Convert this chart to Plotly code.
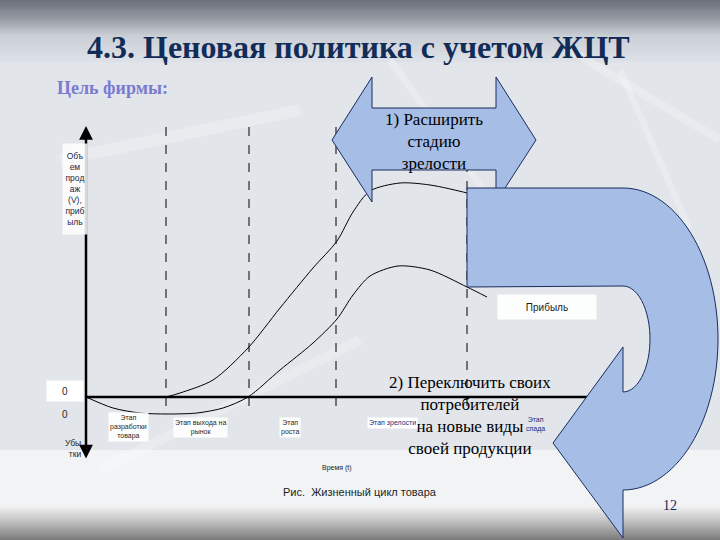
import numpy as np
import plotly.graph_objects as go

# ---------------- data (time t, value V) ----------------
sales_t = [8.0, 9.4, 12.7, 16.2, 19.4, 22.7, 25.1, 26.7, 28.4, 31.4, 34.4, 38.1, 40.1]
sales_v = [0.0, 0.4, 1.7, 4.9, 8.9, 12.9, 15.6, 18.5, 20.6, 21.4, 21.2, 20.4, 19.8]

profit_t = [0.0, 2.7, 5.4, 8.1, 11.1, 13.7, 16.2, 19.4, 22.7, 25.1, 26.7, 28.4, 31.2, 34.4, 38.1, 40.1]
profit_v = [0.0, -1.1, -1.6, -1.7, -1.6, -1.1, 0.0, 2.7, 5.4, 7.8, 10.2, 12.1, 13.1, 12.7, 11.0, 10.0]

stage_bounds = [8.0, 16.3, 25.0, 38.1]
stage_labels = ["Этап<br>разработки<br>товара", "Этап выхода на<br>рынок", "Этап<br>роста",
                "Этап зрелости", "Этап<br>спада"]
stage_label_t = [4.2, 11.4, 20.4, 30.6, 44.0]

title_text = "4.3. Ценовая политика с учетом ЖЦТ"
goal_text = "Цель фирмы:"
callout1_text = "1) Расширить<br>стадию<br>зрелости"
callout2_text = "2) Переключить своих<br>потребителей<br>на новые виды<br>своей продукции"
y_label = "Объ<br>ем<br>прод<br>аж<br>(V),<br>приб<br>ыль"
caption = "Рис.  Жизненный цикл товара"
page_no = "12"

SERIF = "Liberation Serif"
SANS = "Liberation Sans"
ARROW_FILL = "rgb(166,189,230)"
ARROW_LINE = "rgb(25,45,95)"

fig = go.Figure()

# axis ranges: 10 px per unit, t=0 at x=86px, V=0 at y=397px
XR = [-8.6, 63.4]
YR = [-14.3, 39.7]

shapes = []

def lerp(c1, c2, f):
    return tuple(int(round(a + (b - a) * f)) for a, b in zip(c1, c2))

# background
shapes.append(dict(type="rect", xref="paper", yref="paper", x0=0, x1=1, y0=0, y1=1,
                   fillcolor="rgb(226,229,234)", line=dict(width=0), layer="below"))
stops = [(0, (106, 110, 120)), (18, (148, 152, 161)), (36, (203, 207, 214)), (62, (222, 226, 232))]
for i in range(len(stops) - 1):
    (p0, c0), (p1, c1) = stops[i], stops[i + 1]
    n = 8
    for k in range(n):
        ya = p0 + (p1 - p0) * k / n
        yb = p0 + (p1 - p0) * (k + 1) / n
        c = lerp(c0, c1, (k + 0.5) / n)
        shapes.append(dict(type="rect", xref="paper", yref="paper", x0=0, x1=1,
                           y0=1 - yb / 540 - 0.001, y1=1 - ya / 540,
                           fillcolor="rgb(%d,%d,%d)" % c, line=dict(width=0), layer="below"))
# lighter lower part
shapes.append(dict(type="rect", xref="paper", yref="paper", x0=0, x1=1,
                   y0=1 - 505 / 540, y1=1 - 450 / 540,
                   fillcolor="rgba(250,250,250,0.7)", line=dict(width=0), layer="below"))
bstops = [(505, (246, 246, 246)), (522, (190, 190, 190)), (540, (122, 122, 122))]
for i in range(len(bstops) - 1):
    (p0, c0), (p1, c1) = bstops[i], bstops[i + 1]
    n = 8
    for k in range(n):
        ya = p0 + (p1 - p0) * k / n
        yb = p0 + (p1 - p0) * (k + 1) / n
        c = lerp(c0, c1, (k + 0.5) / n)
        shapes.append(dict(type="rect", xref="paper", yref="paper", x0=0, x1=1,
                           y0=max(0, 1 - yb / 540 - 0.001), y1=1 - ya / 540,
                           fillcolor="rgb(%d,%d,%d)" % c, line=dict(width=0), layer="below"))
# faint streaks
for (xa, ya, xb, yb, w) in [(570, 50, 720, 140, 8), (620, 70, 690, 230, 6), (60, 160, 300, 110, 12),
                            (100, 470, 360, 340, 10), (390, 60, 520, 240, 7)]:
    shapes.append(dict(type="line", xref="paper", yref="paper", x0=xa / 720, y0=1 - ya / 540,
                       x1=xb / 720, y1=1 - yb / 540,
                       line=dict(color="rgba(255,255,255,0.25)", width=w), layer="below"))

# dashed stage boundaries
for b in stage_bounds:
    shapes.append(dict(type="line", xref="x", yref="y", x0=b, x1=b, y0=27.0, y1=-1.8,
                       line=dict(color="black", width=1, dash="dash"), layer="below"))

# x axis line
shapes.append(dict(type="line", xref="x", yref="y", x0=0, x1=51.5, y0=0, y1=0,
                   line=dict(color="black", width=2.5), layer="above"))

# callout 1 (left-right arrow)
c1 = [(28.6, 32.0), (28.6, 28.9), (41.0, 28.9), (41.0, 32.0), (45.0, 25.7), (41.0, 19.5),
      (41.0, 22.7), (28.6, 22.7), (28.6, 19.5), (24.6, 25.7)]
path1 = "M " + " L ".join("%.2f,%.2f" % p for p in c1) + " Z"
shapes.append(dict(type="path", xref="x", yref="y", path=path1, fillcolor=ARROW_FILL,
                   line=dict(color=ARROW_LINE, width=1), layer="above"))

# curved down arrow
cx, cy = 53.7, 5.8
orx, ory = 9.5, 15.1
irx, iry = 2.7, 5.3
pts = [(38.1, 20.9), (cx, 20.9)]
for a in np.linspace(np.pi / 2, -np.pi / 2, 60):
    pts.append((cx + orx * np.cos(a), cy + ory * np.sin(a)))
pts += [(cx, -14.1), (46.7, -4.6), (cx, 5.0), (cx, cy - iry)]
for a in np.linspace(-np.pi / 2, np.pi / 2, 30):
    pts.append((cx + irx * np.cos(a), cy + iry * np.sin(a)))
pts += [(38.1, 11.0)]
path2 = "M " + " L ".join("%.3f,%.3f" % p for p in pts) + " Z"
shapes.append(dict(type="path", xref="x", yref="y", path=path2, fillcolor=ARROW_FILL,
                   line=dict(color=ARROW_LINE, width=1), layer="above"))

# curves
fig.add_trace(go.Scatter(x=sales_t, y=sales_v, mode="lines",
                         line=dict(color="black", width=1, shape="spline", smoothing=0.8),
                         hoverinfo="skip", showlegend=False))
fig.add_trace(go.Scatter(x=profit_t, y=profit_v, mode="lines",
                         line=dict(color="black", width=1, shape="spline", smoothing=0.8),
                         hoverinfo="skip", showlegend=False))

ann = []
# y axis with arrows at both ends
ann.append(dict(x=0, y=27.1, ax=0, ay=-6.3, xref="x", yref="y", axref="x", ayref="y", text="",
                showarrow=True, arrowhead=2, arrowside="end+start", arrowwidth=2.5, arrowsize=1.1,
                arrowcolor="black"))

ann.append(dict(x=0.498, y=1 - 47 / 540, xref="paper", yref="paper", xanchor="center", yanchor="middle",
                text="<b>%s</b>" % title_text,
                showarrow=False, font=dict(family=SERIF, size=32, color="rgb(18,44,88)")))
ann.append(dict(x=55 / 720, y=1 - 88 / 540, xref="paper", yref="paper", xanchor="left", yanchor="middle",
                text="<b>%s</b>" % goal_text, showarrow=False,
                font=dict(family=SERIF, size=18, color="rgb(122,122,208)")))

ann.append(dict(x=-1.1, y=20.8, xref="x", yref="y", text=y_label, showarrow=False,
                font=dict(family=SANS, size=8.5, color="rgb(30,40,70)"), bgcolor="rgba(255,255,255,0.85)",
                width=22, height=88))
ann.append(dict(x=-2.1, y=0.6, xref="x", yref="y", text="0", showarrow=False,
                font=dict(family=SANS, size=10, color="rgb(40,40,40)"), bgcolor="white", width=34, height=18))
ann.append(dict(x=-2.1, y=-1.7, xref="x", yref="y", text="0", showarrow=False,
                font=dict(family=SANS, size=10, color="rgb(40,40,40)")))
ann.append(dict(x=-0.3, y=-5.1, xref="x", yref="y", text="Убы<br>тки", showarrow=False, xanchor="right",
                align="right", font=dict(family=SANS, size=8.5, color="rgb(40,40,40)")))

# stage labels
for i, (lab, t) in enumerate(zip(stage_labels[:3], stage_label_t[:3])):
    ann.append(dict(x=t, y=-3.0, xref="x", yref="y", text=lab, showarrow=False,
                    font=dict(family=SANS, size=7, color="rgb(40,40,40)"),
                    bgcolor="rgba(255,255,255,0.9)"))

ann.append(dict(x=25.1, y=-7.1, xref="x", yref="y", text="Время (t)", showarrow=False,
                font=dict(family=SANS, size=7, color="rgb(30,30,30)")))
ann.append(dict(x=46.1, y=9.0, xref="x", yref="y", text="Прибыль", showarrow=False,
                font=dict(family=SANS, size=10, color="rgb(30,30,30)"), bgcolor="rgba(255,255,255,0.9)",
                width=96, height=22))

ann.append(dict(x=34.8, y=25.6, xref="x", yref="y", text=callout1_text, showarrow=False,
                font=dict(family=SERIF, size=17, color="black")))
ann.append(dict(x=38.4, y=-1.8, xref="x", yref="y", text=callout2_text, showarrow=False,
                font=dict(family=SERIF, size=17, color="black")))
# overlapping small labels drawn after the big text
ann.append(dict(x=stage_label_t[3], y=-2.6, xref="x", yref="y", text=stage_labels[3], showarrow=False,
                font=dict(family=SANS, size=7, color="rgb(25,45,120)"), bgcolor="white"))
ann.append(dict(x=stage_label_t[4] + 0.9, y=-2.7, xref="x", yref="y", text=stage_labels[4], showarrow=False,
                font=dict(family=SANS, size=7, color="rgb(25,45,120)")))

ann.append(dict(x=0.5, y=1 - 492 / 540, xref="paper", yref="paper", xanchor="center", yanchor="middle",
                text=caption, showarrow=False,
                font=dict(family=SANS, size=11, color="rgb(30,30,30)")))
ann.append(dict(x=670 / 720, y=1 - 505 / 540, xref="paper", yref="paper", xanchor="center", yanchor="middle",
                text=page_no, showarrow=False,
                font=dict(family=SERIF, size=14, color="rgb(18,44,88)")))

fig.update_layout(
    width=720, height=540, margin=dict(l=0, r=0, t=0, b=0),
    paper_bgcolor="rgb(226,229,234)", plot_bgcolor="rgba(0,0,0,0)",
    xaxis=dict(range=XR, visible=False, fixedrange=True),
    yaxis=dict(range=YR, visible=False, fixedrange=True),
    shapes=shapes, annotations=ann, showlegend=False,
)
fig.write_html("out.html", config={"displayModeBar": False},
               post_script="document.body.style.margin='0px';document.body.style.padding='0px';"
                           "document.body.style.overflow='hidden';")
